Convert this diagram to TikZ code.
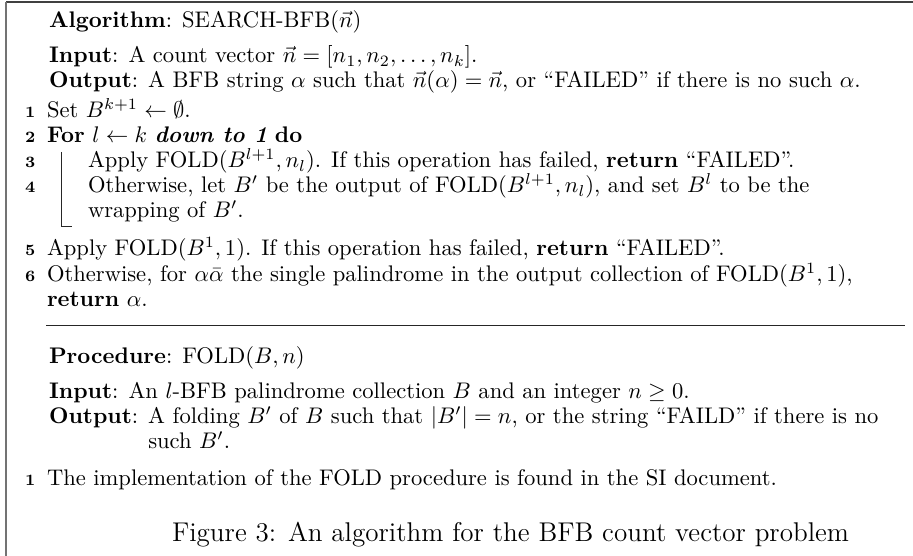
\documentclass[tikz,border=0pt]{standalone}
\usepackage{amssymb}
\begin{document}
\begin{tikzpicture}[x=0.443pt,y=-0.443pt,
  tx/.style={anchor=base west,inner sep=0pt,outer sep=0pt},
  lnum/.style={anchor=base west,inner sep=0pt,outer sep=0pt,font=\scriptsize\bfseries},
  frameline/.style={line width=0.9pt,draw=black!55},
  algrule/.style={line width=0.4pt,draw=black!85}]
\useasboundingbox (0,0) rectangle (913,556);
% frame
\coordinate (ftopleft) at (6,2);
\coordinate (ftopright) at (913,2);
\coordinate (fbotleft) at (6,556);
\draw[frameline,draw=black!75] (ftopleft) -- (ftopright);
\draw[frameline] (ftopleft) -- (fbotleft);
% header
\node[tx] (hdr) at (49,28) {\textbf{Algorithm}: SEARCH-BFB($\vec{n}$)};
\node[tx] (in1) at (49,63) {\textbf{Input}: A count vector $\vec{n} = [n_1, n_2, \ldots, n_k]$.};
\node[tx] (out1) at (49,88) {\textbf{Output}: A BFB string $\alpha$ such that $\vec{n}(\alpha) = \vec{n}$, or ``FAILED'' if there is no such $\alpha$.};
% steps
\node[lnum] (n1) at (25,118) {1};
\node[tx] (s1) at (47,118) {Set $B^{k+1} \leftarrow \emptyset$.};
\node[lnum] (n2) at (25,143) {2};
\node[tx] (s2) at (47,143) {\textbf{For} $l \leftarrow k$ \textbf{\itshape down to 1} \textbf{do}};
\node[lnum] (n3) at (25,168) {3};
\node[tx] (s3) at (88,168) {Apply FOLD$(B^{l+1}, n_l)$. If this operation has failed, \textbf{return} ``FAILED''.};
\node[lnum] (n4) at (25,193) {4};
\node[tx] (s4) at (88,193) {Otherwise, let $B'$ be the output of FOLD$(B^{l+1}, n_l)$, and set $B^l$ to be the};
\node[tx] (s4b) at (88,218) {wrapping of $B'$.};
\coordinate (bartop) at (61,152);
\coordinate (barbot) at (61,226);
\coordinate (barend) at (72,226);
\draw[algrule] (bartop) -- (barbot) -- (barend);
\node[lnum] (n5) at (25,256) {5};
\node[tx] (s5) at (47,256) {Apply FOLD$(B^1, 1)$. If this operation has failed, \textbf{return} ``FAILED''.};
\node[lnum] (n6) at (25,282) {6};
\node[tx] (s6) at (47,282) {Otherwise, for $\alpha\bar{\alpha}$ the single palindrome in the output collection of FOLD$(B^1, 1)$,};
\node[tx] (s6b) at (47,307) {\textbf{return} $\alpha$.};
\coordinate (ruleL) at (46,325);
\coordinate (ruleR) at (905,325);
\draw[algrule] (ruleL) -- (ruleR);
% procedure
\node[tx] (phdr) at (49,364) {\textbf{Procedure}: FOLD$(B, n)$};
\node[tx] (pin) at (49,399) {\textbf{Input}: An $l$-BFB palindrome collection $B$ and an integer $n \geq 0$.};
\node[tx] (pout) at (49,424) {\textbf{Output}: A folding $B'$ of $B$ such that $|B'| = n$, or the string ``FAILD'' if there is no};
\node[tx] (pout2) at (49,449) {\phantom{\textbf{Output}: }such $B'$.};
\node[lnum] (pn1) at (25,486) {1};
\node[tx] (ps1) at (47,486) {The implementation of the FOLD procedure is found in the SI document.};
% caption
\node[tx,font=\large] (cap) at (172,542) {Figure 3: An algorithm for the BFB count vector problem};
\end{tikzpicture}
\end{document}
